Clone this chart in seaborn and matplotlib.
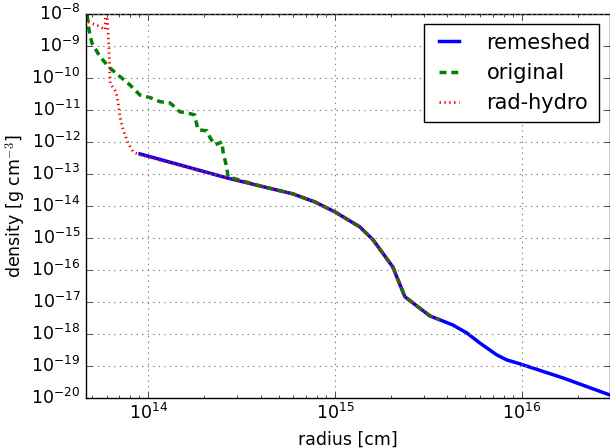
import matplotlib
matplotlib.use('Agg')
import matplotlib.pyplot as plt
import seaborn as sns
from matplotlib.ticker import LogLocator, NullLocator

# radius [cm] and density [g cm^-3]
remeshed_r = [9.06e13, 2.64e14, 3.97e14, 5.96e14, 7.8e14, 1.0e15, 1.36e15, 1.6e15,
              2.04e15, 2.37e15, 3.22e15, 3.64e15, 4.27e15, 5.08e15, 5.96e15,
              7.35e15, 8.3e15, 9.75e15, 1.66e16, 2.95e16]
remeshed_rho = [4.2e-13, 7.5e-14, 4.2e-14, 2.37e-14, 1.33e-14, 6.5e-15, 2.2e-15, 8.7e-16,
                1.24e-16, 1.44e-17, 3.65e-18, 2.75e-18, 1.9e-18, 1.07e-18, 5.2e-19,
                2.2e-19, 1.54e-19, 1.16e-19, 4.2e-20, 1.24e-20]

original_r = [4.72e13, 4.83e13, 5.0e13, 5.53e13, 6.27e13, 8.0e13, 9.06e13, 1.03e14,
              1.16e14, 1.31e14, 1.39e14, 1.48e14, 1.62e14, 1.78e14, 1.81e14, 1.85e14,
              2.07e14, 2.15e14, 2.28e14, 2.49e14, 2.52e14, 2.64e14, 2.68e14,
              3.97e14, 5.96e14, 7.8e14, 1.0e15, 1.36e15, 1.6e15, 2.04e15, 2.37e15,
              3.22e15, 3.64e15]
original_rho = [9.3e-9, 3.2e-9, 1.25e-9, 4.6e-10, 2.0e-10, 6.0e-11, 2.9e-11, 2.4e-11,
                1.8e-11, 1.65e-11, 1.23e-11, 8.7e-12, 8.1e-12, 6.9e-12, 4.2e-12, 2.4e-12,
                2.2e-12, 1.33e-12, 8.1e-13, 1.0e-12, 4.9e-13, 1.55e-13, 8.1e-14,
                4.2e-14, 2.37e-14, 1.33e-14, 6.5e-15, 2.2e-15, 8.7e-16, 1.24e-16, 1.44e-17,
                3.65e-18, 2.75e-18]

radhydro_r = [4.78e13, 5.53e13, 5.89e13, 5.96e13, 6.1e13, 6.18e13, 6.27e13, 6.5e13,
              6.74e13, 6.92e13, 7.08e13, 7.35e13, 7.82e13, 8.32e13, 9.06e13,
              2.64e14, 3.97e14, 5.96e14, 7.8e14, 1.0e15, 1.36e15, 1.6e15, 2.04e15,
              2.37e15, 3.22e15, 3.64e15]
radhydro_rho = [5.6e-9, 4.0e-9, 3.2e-9, 3.2e-8, 3.2e-9, 7.9e-10, 6.9e-11, 4.9e-11,
                3.7e-11, 1.65e-11, 6.0e-12, 2.4e-12, 9.3e-13, 4.9e-13, 3.9e-13,
                7.5e-14, 4.2e-14, 2.37e-14, 1.33e-14, 6.5e-15, 2.2e-15, 8.7e-16, 1.24e-16,
                1.44e-17, 3.65e-18, 2.75e-18]

plt.style.use('classic')
plt.rcParams['axes.unicode_minus'] = False
plt.rcParams['font.family'] = ['DejaVu Sans']
plt.rcParams['xtick.labelsize'] = 12.5
plt.rcParams['ytick.labelsize'] = 12.5
plt.rcParams['axes.labelsize'] = 12.5

fig, ax = plt.subplots(figsize=(6.1, 4.48), dpi=100)
fig.subplots_adjust(left=0.141, right=0.9992, bottom=0.112, top=0.969)

sns.lineplot(x=remeshed_r, y=remeshed_rho, sort=False, estimator=None, ax=ax,
             color='b', lw=2.5, label='remeshed')
sns.lineplot(x=original_r, y=original_rho, sort=False, estimator=None, ax=ax,
             color='g', lw=2.5, ls=(0, (5, 3.5)), label='original')
sns.lineplot(x=radhydro_r, y=radhydro_rho, sort=False, estimator=None, ax=ax,
             color='r', lw=2, ls=(0, (1, 2.5)), label='rad-hydro')

ax.set_xscale('log')
ax.set_yscale('log')
ax.set_xlim(10**13.668, 10**16.47)
ax.set_ylim(1e-20, 1e-8)
ax.yaxis.set_major_locator(LogLocator(base=10, numticks=30))
ax.yaxis.set_minor_locator(NullLocator())
ax.grid(True, which='major', color='0.5', ls=':', lw=0.8)

ax.set_xlabel('radius [cm]')
ax.set_ylabel(r'density [g cm$^{-3}$]', labelpad=2)

leg = ax.legend(loc='upper right', fontsize=15, fancybox=False, framealpha=1,
                handlelength=1.6, handletextpad=1.0)
leg.get_frame().set_edgecolor('k')

fig.savefig('out.png', dpi=100, facecolor='w')
